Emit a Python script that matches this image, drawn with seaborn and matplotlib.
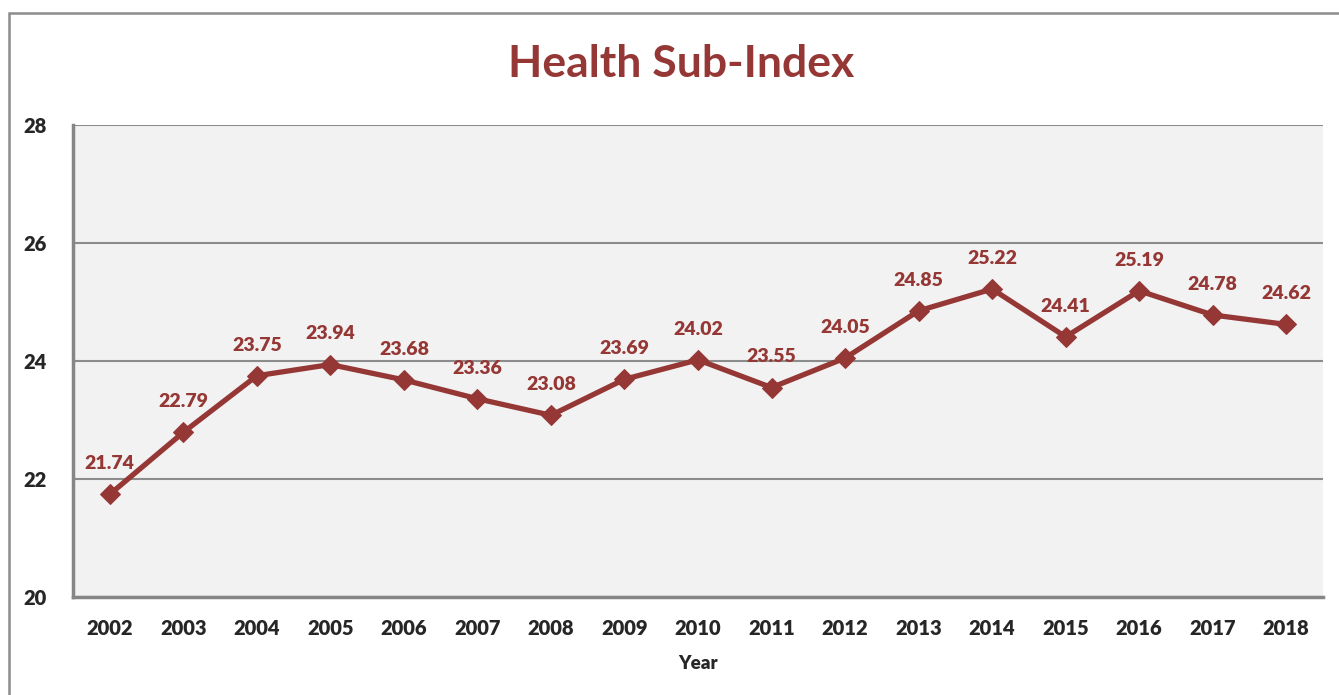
import numpy as np
import pandas as pd
import matplotlib
matplotlib.use("Agg")
import matplotlib.pyplot as plt
import matplotlib.patches as patches
from matplotlib.ticker import FixedLocator
import seaborn as sns

# Health sub-index values per year
years = [2002, 2003, 2004, 2005, 2006, 2007, 2008, 2009, 2010,
         2011, 2012, 2013, 2014, 2015, 2016, 2017, 2018]
values = [21.74, 22.79, 23.75, 23.94, 23.68, 23.36, 23.08, 23.69, 24.02,
          23.55, 24.05, 24.85, 25.22, 24.41, 25.19, 24.78, 24.62]
y_ticks = [20, 22, 24, 26, 28]

df = pd.DataFrame({"Year": years, "Index": values})

sns.set_style("white")
plt.rcParams['font.family'] = ['Lato', 'DejaVu Sans']

red = "#953735"
grey = "#868686"

fig = plt.figure(figsize=(13.39, 6.95), dpi=100)
ax = fig.add_axes([73 / 1339, 1 - 597 / 695, (1323 - 73) / 1339, (597 - 125) / 695])
ax.set_facecolor("#F2F2F2")

sns.lineplot(data=df, x="Year", y="Index", ax=ax, color=red, linewidth=3.8,
             marker="D", markersize=10.5, markeredgecolor=red, zorder=3)

for x, v in zip(years, values):
    ax.annotate(f"{v:.2f}", (x, v), xytext=(0, 22), textcoords="offset points",
                ha="center", va="center", fontsize=14, fontweight="heavy", color=red)

ax.set_xlim(years[0] - 0.5, years[-1] + 0.5)
ax.set_ylim(y_ticks[0], y_ticks[-1])
ax.set_yticks(y_ticks)
ax.set_xticks(years)
ax.xaxis.set_minor_locator(FixedLocator(np.arange(years[0] - 0.5, years[-1] + 1, 1)))
ax.tick_params(axis="x", which="major", length=0, pad=16, labelsize=14.5)
ax.tick_params(axis="x", which="minor", length=6, width=1.5, color=grey, direction="out")
ax.tick_params(axis="y", length=6, width=1.5, color=grey, direction="out", pad=13, labelsize=14.5)
for lab in ax.get_xticklabels() + ax.get_yticklabels():
    lab.set_fontweight("heavy")

ax.grid(axis="y", color="#8C8C8C", linewidth=1.5)
ax.set_axisbelow(True)
for s in ["top", "right"]:
    ax.spines[s].set_visible(False)
for s in ["left", "bottom"]:
    ax.spines[s].set_color(grey)
    ax.spines[s].set_linewidth(2.5)

ax.set_ylabel("")
ax.set_xlabel("Year", fontsize=13.5, fontweight="heavy", labelpad=12)
fig.text(681 / 1339, 1 - 64 / 695, "Health Sub-Index", ha="center", va="center",
         fontsize=32, fontweight="bold", color=red)

# outer chart border (only top and left edges are visible)
fig.patches.append(patches.Rectangle((9 / 1339, -0.1), 1.2, 1 - 13 / 695 + 0.1,
                                     transform=fig.transFigure, fill=False,
                                     edgecolor="#8C8C8C", linewidth=1.8))

fig.savefig("out.png", dpi=100)
